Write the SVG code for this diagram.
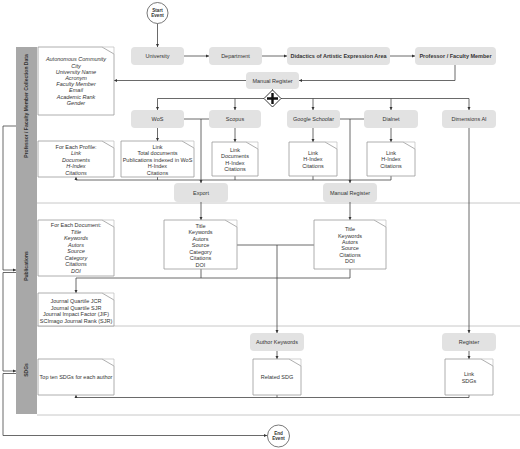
<svg xmlns="http://www.w3.org/2000/svg" width="520" height="449" viewBox="0 0 520 449">
<defs>
<marker id="ar" viewBox="0 0 6 6" refX="6" refY="3" markerWidth="3.2" markerHeight="3.2" markerUnits="userSpaceOnUse" orient="auto"><path d="M0,0 L6,3 L0,6 Z" fill="#333"/></marker>
</defs>
<style>
text{font-family:"Liberation Sans",Arial,sans-serif;fill:#333;font-size:5.5px;text-anchor:middle}
.task rect{fill:#e2e2e2;stroke:none}
.b{font-weight:bold}
.i{font-style:italic}
.doc .o{fill:#fff;stroke:#999;stroke-width:0.8}
.doc .f{fill:none;stroke:#bbb;stroke-width:0.7}
.conn path{fill:none;stroke:#444;stroke-width:0.8}
.conn .a{marker-end:url(#ar)}
.lane{stroke:#c8c8c8;stroke-width:1}
.ev{fill:#fff;stroke:#555;stroke-width:0.8}
.lbl{font-weight:bold;font-size:5px}
.evt{font-weight:bold;font-size:4.6px}
</style>
<rect width="520" height="449" fill="#fff"/>
<g id="pool">
<rect x="16" y="47" width="21" height="367" fill="#a8a8a8"/>
<line class="lane" x1="37" y1="203" x2="520" y2="203"/>
<line class="lane" x1="37" y1="326" x2="520" y2="326"/>
<line class="lane" x1="37" y1="415" x2="520" y2="415"/>
<text class="lbl" transform="translate(28.3,106) rotate(-90)">Professor / Faculty Member Collection Data</text>
<text class="lbl" transform="translate(28.3,266) rotate(-90)">Publications</text>
<text class="lbl" transform="translate(28.3,370) rotate(-90)">SDGs</text>
</g>
<g class="conn" id="connectors">
<path class="a" d="M157.5,23.5 V47"/>
<path class="a" d="M184,56 H209"/>
<path class="a" d="M262,56 H287"/>
<path class="a" d="M390,56 H415"/>
<path class="a" d="M455,65 V80.5 H299"/>
<path class="a" d="M246,80.5 H114"/>
<path d="M272.5,89 V90"/>
<path class="a" d="M264,98.5 H157.5 V110"/>
<path class="a" d="M281,98.5 H469 V110"/>
<path class="a" d="M235,98.5 V110"/>
<path class="a" d="M313,98.5 V110"/>
<path class="a" d="M391,98.5 V110"/>
<path class="a" d="M157.5,128 V141"/>
<path class="a" d="M235,128 V142"/>
<path class="a" d="M313,128 V142"/>
<path class="a" d="M391,128 V142"/>
<path d="M184,119 H209"/>
<path class="a" d="M201,119 V183"/>
<path d="M340,119 H364"/>
<path class="a" d="M350,119 V183"/>
<path class="a" d="M391,176 V180 H76 V177"/>
<path d="M313,176 V180"/>
<path d="M235,176 V180"/>
<path d="M157.5,177 V180"/>
<path class="a" d="M201,202 V220"/>
<path class="a" d="M350,202 V220"/>
<path d="M237,245 H314"/>
<path class="a" d="M277,245 V333"/>
<path d="M201,269 V278"/>
<path class="a" d="M350,269 V278 H76 V293"/>
<path class="a" d="M469,128 V333"/>
<path class="a" d="M277,351 V359"/>
<path class="a" d="M469,351 V359"/>
<path class="a" d="M469,395 V397.5 H76 V395"/>
<path d="M277,395 V397.5"/>
<path class="a" d="M16,126 H3 V270 H16"/>
<path class="a" d="M16,272.5 H3 V371 H16"/>
<path class="a" d="M16,373.5 H3 V435.5 H267"/>
</g>
<g id="start"><circle class="ev" cx="157.5" cy="13" r="10.5"/><text class="evt" x="157.5" y="11.6">Start</text><text class="evt" x="157.5" y="17.4">Event</text></g>
<g id="end"><circle class="ev" cx="278.5" cy="436" r="11"/><text class="evt" x="278.5" y="434.6">End</text><text class="evt" x="278.5" y="440.4">Event</text></g>
<g id="gateway"><path d="M272.5,90 L281,98.5 L272.5,107 L264,98.5 Z" fill="#fff" stroke="#222" stroke-width="0.9"/><path d="M272.5,93 V104 M267,98.5 H278" stroke="#111" stroke-width="2.4"/></g>
<g class="task" id="university"><rect x="131" y="47" width="53" height="18" rx="4"/><text x="157.5" y="58">University</text></g>
<g class="task" id="department"><rect x="209" y="47" width="53" height="18" rx="4"/><text x="235.5" y="58">Department</text></g>
<g class="task" id="didactics"><rect x="287" y="47" width="103" height="18" rx="4"/><text class="b" x="338.5" y="58">Didactics of Artistic Expression Area</text></g>
<g class="task" id="professor"><rect x="415" y="47" width="81" height="18" rx="4"/><text class="b" x="455.5" y="58">Professor / Faculty Member</text></g>
<g class="task" id="manual1"><rect x="246" y="72" width="53" height="17" rx="4"/><text x="272.5" y="82.5">Manual Register</text></g>
<g class="task" id="wos"><rect x="131" y="110" width="53" height="18" rx="4"/><text x="157.5" y="121">WoS</text></g>
<g class="task" id="scopus"><rect x="209" y="110" width="52" height="18" rx="4"/><text x="235" y="121">Scopus</text></g>
<g class="task" id="google"><rect x="287" y="110" width="53" height="18" rx="4"/><text x="313.5" y="121">Google Schoolar</text></g>
<g class="task" id="dialnet"><rect x="364" y="110" width="54" height="18" rx="4"/><text x="391" y="121">Dialnet</text></g>
<g class="task" id="dimensions"><rect x="442" y="110" width="54" height="18" rx="4"/><text x="469" y="121">Dimensions AI</text></g>
<g class="task" id="export"><rect x="174" y="183" width="54" height="19" rx="4"/><text x="201" y="194.5">Export</text></g>
<g class="task" id="manual2"><rect x="323" y="183" width="54" height="19" rx="4"/><text x="350" y="194.5">Manual Register</text></g>
<g class="task" id="authorkw"><rect x="250" y="333" width="54" height="18" rx="4"/><text x="277" y="344">Author Keywords</text></g>
<g class="task" id="register"><rect x="442" y="333" width="54" height="18" rx="4"/><text x="469" y="344">Register</text></g>
<g class="doc" id="d1"><path class="o" d="M38,47 H102 L114,54 V115 H38 Z"/><path class="f" d="M102,47 H114 V54"/>
<text class="i" x="76" y="61.3">Autonomous Community</text><text class="i" x="76" y="67.5">City</text><text class="i" x="76" y="73.7">University Name</text><text class="i" x="76" y="79.9">Acronym</text><text class="i" x="76" y="86.1">Faculty Member</text><text class="i" x="76" y="92.3">Email</text><text class="i" x="76" y="98.5">Academic Rank</text><text class="i" x="76" y="104.7">Gender</text></g>
<g class="doc" id="d2"><path class="o" d="M38,141 H102 L114,148 V177 H38 Z"/><path class="f" d="M102,141 H114 V148"/>
<text x="76" y="148.6">For Each Profile:</text><text class="i" x="76" y="155.1">Link</text><text class="i" x="76" y="161.6">Documents</text><text class="i" x="76" y="168.1">H-Index</text><text class="i" x="76" y="174.6">Citations</text></g>
<g class="doc" id="d3"><path class="o" d="M121,141 H182 L194,148 V177 H121 Z"/><path class="f" d="M182,141 H194 V148"/>
<text x="157.5" y="148.6">Link</text><text x="157.5" y="155.1">Total documents</text><text x="157.5" y="161.6">Publications indexed in WoS</text><text x="157.5" y="168.1">H-Index</text><text x="157.5" y="174.6">Citations</text></g>
<g class="doc" id="d4"><path class="o" d="M212,142 H246 L258,149 V176 H212 Z"/><path class="f" d="M246,142 H258 V149"/>
<text x="235" y="152">Link</text><text x="235" y="158.4">Documents</text><text x="235" y="164.8">H-Index</text><text x="235" y="171.2">Citations</text></g>
<g class="doc" id="d5"><path class="o" d="M289,142 H325 L337,149 V176 H289 Z"/><path class="f" d="M325,142 H337 V149"/>
<text x="313" y="154.6">Link</text><text x="313" y="161.2">H-Index</text><text x="313" y="167.8">Citations</text></g>
<g class="doc" id="d6"><path class="o" d="M367,142 H403 L415,149 V176 H367 Z"/><path class="f" d="M403,142 H415 V149"/>
<text x="391" y="154.6">Link</text><text x="391" y="161.2">H-Index</text><text x="391" y="167.8">Citations</text></g>
<g class="doc" id="d7"><path class="o" d="M38,220 H102 L114,227 V276 H38 Z"/><path class="f" d="M102,220 H114 V227"/>
<text x="76" y="227">For Each Document:</text><text class="i" x="76" y="233.5">Title</text><text class="i" x="76" y="240">Keywords</text><text class="i" x="76" y="246.5">Autors</text><text class="i" x="76" y="253">Source</text><text class="i" x="76" y="259.5">Category</text><text class="i" x="76" y="266">Citations</text><text class="i" x="76" y="272.5">DOI</text></g>
<g class="doc" id="d8"><path class="o" d="M164,220 H225 L237,227 V269 H164 Z"/><path class="f" d="M225,220 H237 V227"/>
<text x="200.5" y="228">Title</text><text x="200.5" y="234.45">Keywords</text><text x="200.5" y="240.9">Autors</text><text x="200.5" y="247.35">Source</text><text x="200.5" y="253.8">Category</text><text x="200.5" y="260.25">Citations</text><text x="200.5" y="266.7">DOI</text></g>
<g class="doc" id="d9"><path class="o" d="M314,220 H374 L386,227 V269 H314 Z"/><path class="f" d="M374,220 H386 V227"/>
<text x="350" y="231.3">Title</text><text x="350" y="237.6">Keywords</text><text x="350" y="243.9">Autors</text><text x="350" y="250.2">Source</text><text x="350" y="256.5">Citations</text><text x="350" y="262.8">DOI</text></g>
<g class="doc" id="d10"><path class="o" d="M38,293 H102 L114,300 V326 H38 Z"/><path class="f" d="M102,293 H114 V300"/>
<text x="76" y="303">Journal Quartile JCR</text><text x="76" y="309.6">Journal Quartile SJR</text><text x="76" y="316.2">Journal Impact Factor (JIF)</text><text x="76" y="322.8">SCImago Journal Rank (SJR)</text></g>
<g class="doc" id="d11"><path class="o" d="M38,359 H102 L114,366 V395 H38 Z"/><path class="f" d="M102,359 H114 V366"/>
<text x="76" y="379.3">Top ten SDGs for each author</text></g>
<g class="doc" id="d12"><path class="o" d="M253,359 H289 L301,366 V395 H253 Z"/><path class="f" d="M289,359 H301 V366"/>
<text x="277" y="379.3">Related SDG</text></g>
<g class="doc" id="d13"><path class="o" d="M445,359 H481 L493,366 V395 H445 Z"/><path class="f" d="M481,359 H493 V366"/>
<text x="469" y="376">Link</text><text x="469" y="382.7">SDGs</text></g>
</svg>
